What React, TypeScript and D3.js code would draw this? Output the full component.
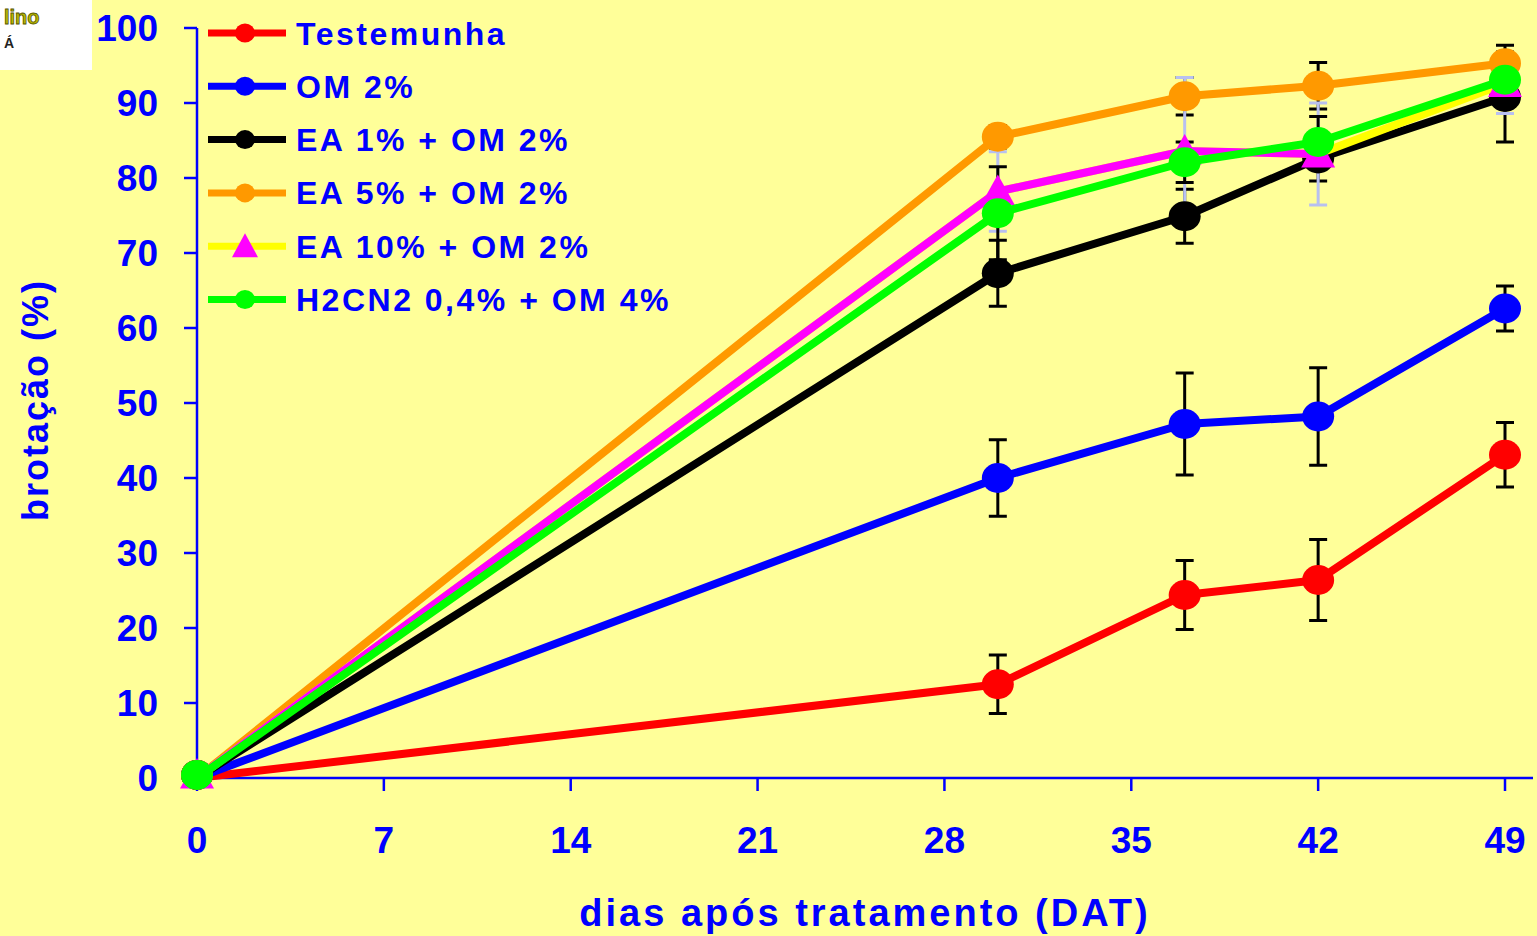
import React from 'react';
import * as d3 from 'd3';

const W = 1537;
const H = 936;

const days = [0, 30, 37, 42, 49];
const xTicks = [0, 7, 14, 21, 28, 35, 42, 49];
const yTicks = [0, 10, 20, 30, 40, 50, 60, 70, 80, 90, 100];

const seriesNames = ['Testemunha', 'OM 2%', 'EA 1% + OM 2%', 'EA 5% + OM 2%', 'EA 10% + OM 2%', 'H2CN2 0,4% + OM 4%'];

const testemunha = [0, 12.5, 24.4, 26.4, 43.1];
const testemunhaErr = [0, 3.9, 4.6, 5.4, 4.3];
const om2 = [0, 40.0, 47.2, 48.2, 62.6];
const om2Err = [0, 5.1, 6.8, 6.5, 3.0];
const ea1 = [0, 67.3, 74.9, 82.6, 90.8];
const ea1Err = [0, 4.4, 3.6, 3.0, 6.0];
const ea5 = [0, 85.5, 90.9, 92.3, 95.3];
const ea5Err = [0, 1.5, 2.5, 3.1, 2.4];
const ea10 = [0, 78.2, 83.6, 83.2, 92.6];
const ea10Err = [0, 5.3, 9.8, 6.8, 4.0];
const h2cn2 = [0, 75.3, 82.1, 84.8, 93.1];
const h2cn2Err = [0, 6.2, 2.7, 3.4, 1.5];

const series = [
  { name: seriesNames[0], values: testemunha, err: testemunhaErr, line: '#FF0000', marker: '#FF0000', shape: 'circle', errColor: '#000000' },
  { name: seriesNames[1], values: om2, err: om2Err, line: '#0000FF', marker: '#0000FF', shape: 'circle', errColor: '#000000' },
  { name: seriesNames[2], values: ea1, err: ea1Err, line: '#000000', marker: '#000000', shape: 'circle', errColor: '#000000' },
  { name: seriesNames[3], values: ea5, err: ea5Err, line: '#FF9900', marker: '#FF9900', shape: 'circle', errColor: '#000000' },
  { name: seriesNames[4], values: ea10, err: ea10Err, line: '#FFFF00', marker: '#FF00FF', shape: 'triangle', errColor: '#B8C0F0' },
  { name: seriesNames[5], values: h2cn2, err: h2cn2Err, line: '#00FF00', marker: '#00FF00', shape: 'circle', errColor: '#000000' },
];

const x = d3.scaleLinear().domain([0, 49]).range([197, 1505]);
const y = d3.scaleLinear().domain([0, 100]).range([778, 28]);

const blue = '#0000FF';
const font = '"Liberation Sans", Arial, sans-serif';

function Marker({ cx, cy, shape, color, r = 15.5 }) {
  if (shape === 'triangle') {
    const s = 17;
    return <path d={`M${cx},${cy - s} L${cx + s},${cy + s * 0.8} L${cx - s},${cy + s * 0.8} Z`} fill={color} />;
  }
  return <ellipse cx={cx} cy={cy} rx={r + 0.5} ry={r - 0.5} fill={color} />;
}

export default function App() {
  const line = d3.line<number>().x((d, i) => x(days[i])).y(d => y(d));

  return (
    <svg width={W} height={H} style={{ position: 'absolute', left: 0, top: 0 }} fontFamily={font}>
      <rect width={W} height={H} fill="#FFFF99" />

      {/* corner of a logo in the source */}
      <rect x={0} y={0} width={92} height={70} fill="#FFFFFF" />
      <text x={4} y={24} fontSize={20} fontWeight="bold" fill="#B8B800" stroke="#555500" strokeWidth={0.8}>lino</text>
      <text x={4} y={48} fontSize={14} fontWeight="bold" fill="#222">Á</text>

      {/* axes */}
      <line x1={197} x2={197} y1={y(100)} y2={y(0)} stroke={blue} strokeWidth={2.5} />
      <line x1={197} x2={1533} y1={y(0)} y2={y(0)} stroke={blue} strokeWidth={2.5} />
      {yTicks.map(t => (
        <g key={'y' + t}>
          <line x1={184} x2={197} y1={y(t)} y2={y(t)} stroke={blue} strokeWidth={2.5} />
          <text x={158} y={y(t)} dy="0.36em" textAnchor="end" fontSize={37} fontWeight="bold" fill={blue}>{t}</text>
        </g>
      ))}
      {xTicks.map(t => (
        <g key={'x' + t}>
          <line x1={x(t)} x2={x(t)} y1={y(0)} y2={y(0) + 13} stroke={blue} strokeWidth={2.5} />
          <text x={x(t)} y={853} textAnchor="middle" fontSize={37} fontWeight="bold" fill={blue}>{t}</text>
        </g>
      ))}

      <text transform="translate(48,400) rotate(-90)" textAnchor="middle" fontSize={36} fontWeight="bold" fill={blue} letterSpacing={2}>brotação (%)</text>
      <text x={865} y={926} textAnchor="middle" fontSize={38} fontWeight="bold" fill={blue} letterSpacing={3}>dias após tratamento (DAT)</text>

      {/* error bars */}
      {series.map(s => (
        <g key={'e' + s.name} stroke={s.errColor} strokeWidth={3}>
          {s.values.map((v, i) => s.err[i] > 0 && (
            <g key={i}>
              <line x1={x(days[i])} x2={x(days[i])} y1={y(v + s.err[i])} y2={y(v - s.err[i])} />
              <line x1={x(days[i]) - 9} x2={x(days[i]) + 9} y1={y(v + s.err[i])} y2={y(v + s.err[i])} />
              <line x1={x(days[i]) - 9} x2={x(days[i]) + 9} y1={y(v - s.err[i])} y2={y(v - s.err[i])} />
            </g>
          ))}
        </g>
      ))}

      {/* lines and markers */}
      {series.map(s => (
        <g key={'s' + s.name}>
          <path d={line(s.values) || ''} fill="none" stroke={s.line} strokeWidth={8} strokeLinejoin="round" />
          {s.shape === 'triangle' && (
            <path d={line(s.values.slice(0, 4)) || ''} fill="none" stroke={s.marker} strokeWidth={8} strokeLinejoin="round" />
          )}
          {s.values.map((v, i) => (
            <Marker key={i} cx={x(days[i])} cy={y(v) - (i === 0 ? 3 : 0)} shape={s.shape} color={s.marker} />
          ))}
        </g>
      ))}

      {/* legend */}
      {series.map((s, i) => {
        const ly = 33 + i * 53.3;
        return (
          <g key={'l' + s.name}>
            <line x1={208} x2={286} y1={ly} y2={ly} stroke={s.line} strokeWidth={7} />
            {s.shape === 'triangle'
              ? <path d={`M245,${ly - 13} L258,${ly + 11} L232,${ly + 11} Z`} fill={s.marker} />
              : <ellipse cx={245} cy={ly} rx={10} ry={9.5} fill={s.marker} />}
            <text x={296} y={ly} dy="0.36em" fontSize={32} fontWeight="bold" fill={blue} letterSpacing={2.5}>{s.name}</text>
          </g>
        );
      })}
    </svg>
  );
}
